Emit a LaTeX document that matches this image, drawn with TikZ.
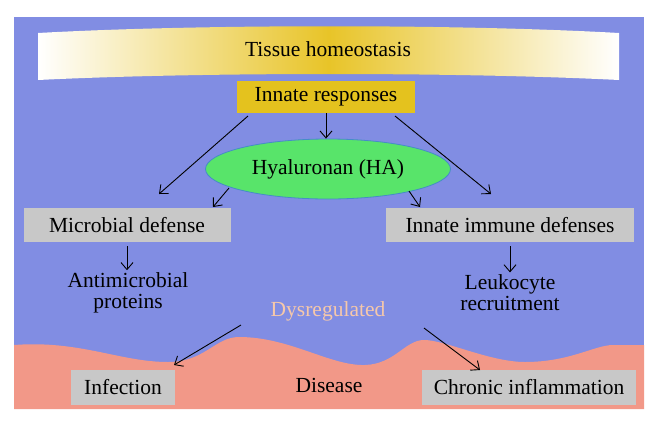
\documentclass[tikz,border=0pt]{standalone}
\usepackage{fontspec}
\setmainfont{Liberation Serif}
\usetikzlibrary{arrows.meta,shapes.geometric}
\definecolor{panelblue}{RGB}{129,141,227}
\definecolor{pinkred}{RGB}{242,152,136}
\definecolor{goldbox}{RGB}{228,194,30}
\definecolor{goldmid}{RGB}{232,196,40}
\definecolor{greyfill}{RGB}{200,200,200}
\definecolor{greenfill}{RGB}{88,228,106}
\definecolor{ellborder}{RGB}{70,140,200}
\definecolor{peach}{RGB}{246,200,170}
\tikzset{
  lbl/.style={font=\fontsize{21.5}{21}\selectfont, text=black, align=center},
  greybox/.style={lbl, fill=greyfill, inner sep=0pt},
  arr/.style={-{Straight Barb[length=7pt,width=12pt]}, line width=0.9pt, black},
}
\begin{document}
\begin{tikzpicture}[x=1pt,y=-1pt]
\useasboundingbox (0,0) rectangle (658,424);
\fill[white] (0,0) rectangle (658,424);
% panel
\fill[panelblue] (14,17) rectangle (644,409);
% bottom wave
\fill[pinkred] (14,345) .. controls (80,340) and (120,362) .. (168,362)
  .. controls (205,362) and (215,337) .. (239,337)
  .. controls (290,337) and (330,366) .. (365,365)
  .. controls (395,364) and (405,340) .. (424,340)
  .. controls (445,340) and (490,362) .. (525,362)
  .. controls (570,362) and (595,345) .. (613,345)
  -- (644,345) -- (644,409) -- (14,409) -- cycle;
% banner
\shade[left color=white, right color=white, middle color=goldmid]
  (38,33) .. controls (200,24) and (460,24) .. (619,33) -- (619,80)
  .. controls (460,72) and (200,72) .. (38,80) -- cycle;
\node[lbl] (tissue) at (328,49) {Tissue homeostasis};
% nodes
\node[lbl, fill=goldbox, minimum width=178pt, minimum height=32pt, inner sep=0pt] (innate) at (326,97) {Innate responses};
\node[lbl, ellipse, fill=greenfill, draw=ellborder, line width=0.8pt, minimum width=245pt, minimum height=60pt, inner sep=0pt] (ha) at (328,169) {Hyaluronan (HA)};
\node[greybox, minimum width=207pt, minimum height=34pt] (micro) at (127,225) {Microbial defense};
\node[greybox, minimum width=248pt, minimum height=34pt] (immune) at (510,225) {Innate immune defenses};
\node[lbl] (amp) at (128,293) {Antimicrobial\\proteins};
\node[lbl] (leuk) at (510,293) {Leukocyte\\recruitment};
\node[lbl, text=peach] (dys) at (328,311) {Dysregulated};
\node[greybox, minimum width=104pt, minimum height=35pt] (inf) at (123,387) {Infection};
\node[greybox, minimum width=214pt, minimum height=35pt] (chronic) at (529,387) {Chronic inflammation};
\node[lbl] (disease) at (329,385) {Disease};
% arrow end coordinates
\coordinate (a1s) at (248,116); \coordinate (a1e) at (159,194);
\coordinate (a2s) at (395,116); \coordinate (a2e) at (491,194);
\coordinate (m1s) at (229,188); \coordinate (m1e) at (213,207);
\coordinate (m2s) at (409,191); \coordinate (m2e) at (420,207);
\coordinate (d1s) at (241,325); \coordinate (d1e) at (174,365);
\coordinate (d2s) at (424,328); \coordinate (d2e) at (480,370);
% connectors
\draw[arr] (a1s) -- (a1e);
\draw[arr] (a2s) -- (a2e);
\draw[arr] (innate.south) -- (innate.south |- ha.north);
\draw[arr] (m1s) -- (m1e);
\draw[arr] (m2s) -- (m2e);
\draw[arr] ([yshift=-4pt]micro.south) -- ([yshift=-1pt]micro.south |- amp.north);
\draw[arr] ([yshift=-4pt]immune.south) -- ([yshift=-1pt]immune.south |- leuk.north);
\draw[arr] (d1s) -- (d1e);
\draw[arr] (d2s) -- (d2e);
\end{tikzpicture}
\end{document}
